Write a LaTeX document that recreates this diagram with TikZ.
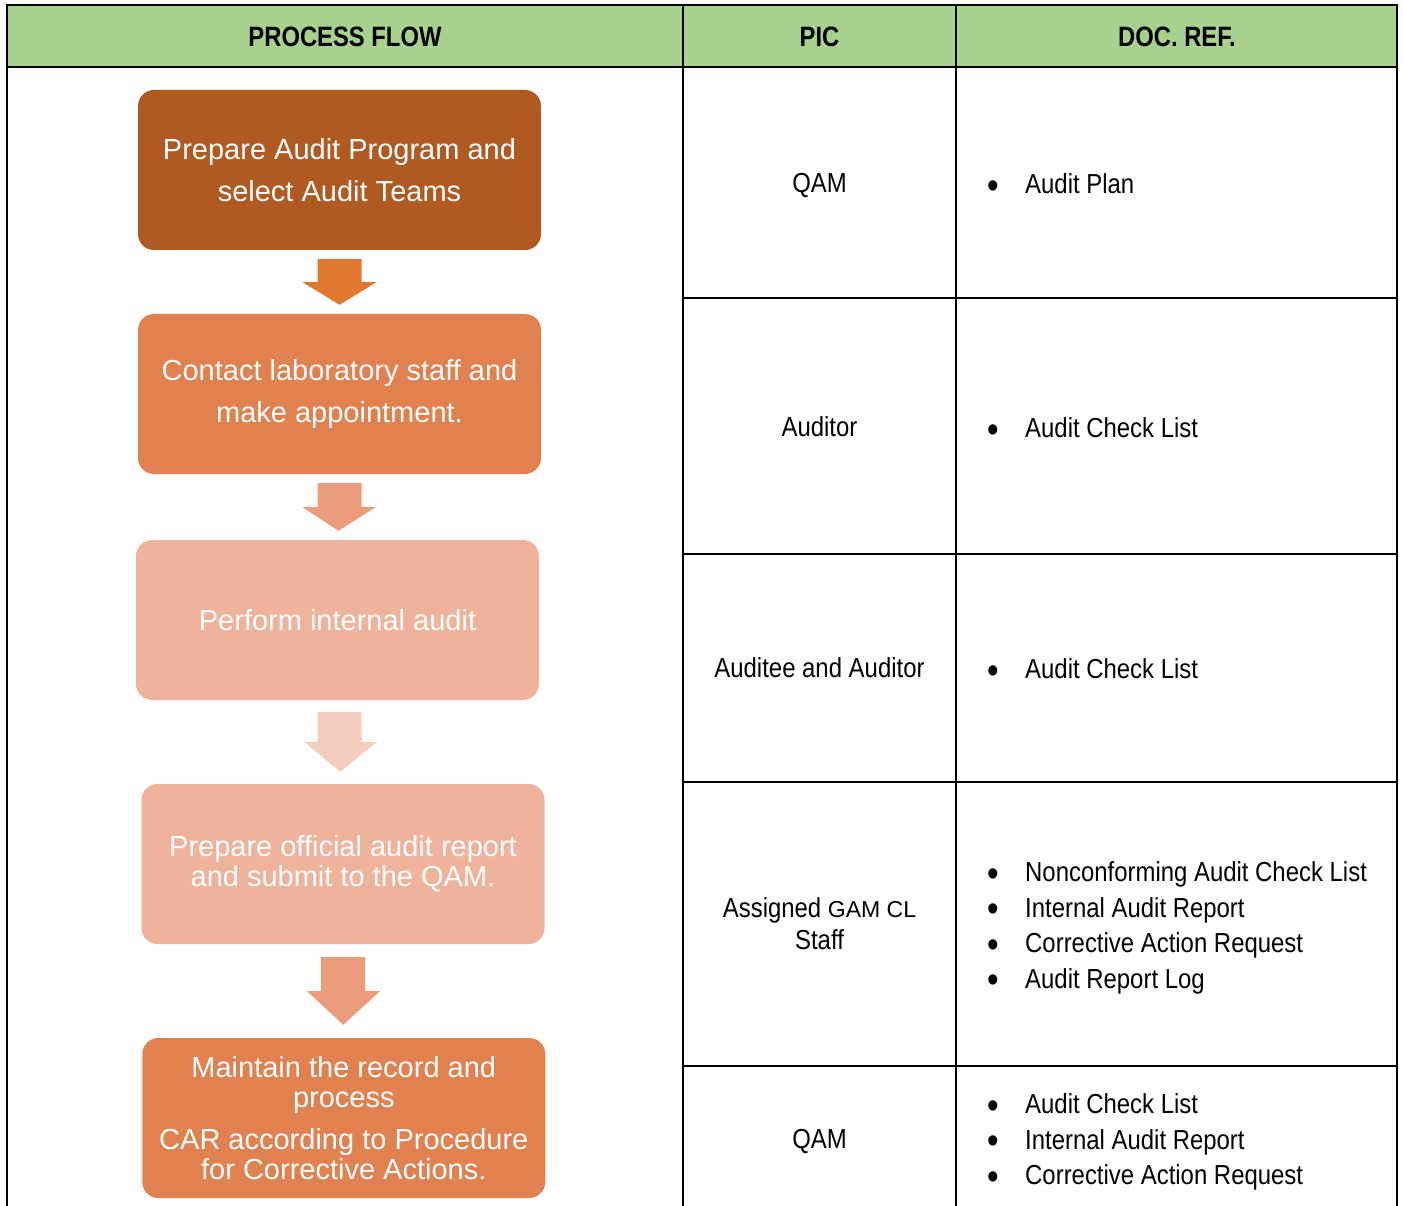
\documentclass[tikz,border=0pt]{standalone}
\usepackage{fontspec}
\setmainfont{Liberation Sans}
\newfontfamily\narrowf{Liberation Sans}[FakeStretch=0.87]
\newfontfamily\hdrf{Liberation Sans}[FakeStretch=0.85]
\usetikzlibrary{calc}
\definecolor{hdrgreen}{HTML}{A9D18E}
\definecolor{cbA}{HTML}{B05A22}
\definecolor{caA}{HTML}{E07830}
\definecolor{cbB}{HTML}{E0814F}
\definecolor{caB}{HTML}{EA9C7B}
\definecolor{cbC}{HTML}{EFB39B}
\definecolor{caC}{HTML}{F5CDBF}
\tikzset{
  tline/.style={line width=2.8pt, black},
  stepbox/.style={rounded corners=16pt, inner sep=0pt, text=white, align=center,
     minimum width=403pt, minimum height=160pt},
  hdrtext/.style={font=\hdrf\bfseries\fontsize{28}{30}\selectfont, inner sep=0pt},
  pictext/.style={font=\narrowf\fontsize{27.5}{32}\selectfont, inner sep=0pt, align=center},
  doctext/.style={font=\narrowf\fontsize{27.5}{35.5}\selectfont, inner sep=0pt, align=left, anchor=west},
}
\newcommand{\bl}[1]{\makebox[38pt][l]{\raisebox{-4.5pt}{\fontsize{38}{0}\selectfont •}}#1}
\begin{document}
\begin{tikzpicture}[x=1pt,y=-1pt]
\useasboundingbox (0,0) rectangle (1403,1206);
% header
\fill[hdrgreen] (7,5) rectangle (1397,67);
\draw[tline] (7,1206) -- (7,5) -- (1397,5) -- (1397,1206);
\draw[tline] (7,67) -- (1397,67);
\draw[tline] (683,5) -- (683,1206);
\draw[tline] (956,5) -- (956,1206);
\foreach \yy in {298,554,782,1066} \draw[tline] (683,\yy) -- (1397,\yy);
\node[hdrtext] (hpf) at (345,37) {PROCESS FLOW};
\node[hdrtext] (hpic) at (819.5,37) {PIC};
\node[hdrtext] (hdoc) at (1177,37) {DOC. REF.};

% process boxes
\node[stepbox, fill=cbA, font=\fontsize{29}{42}\selectfont] (b1) at (339.5,170) {Prepare Audit Program and\\select Audit Teams};
\node[stepbox, fill=cbB, font=\fontsize{29}{42}\selectfont] (b2) at (339.5,394) {Contact laboratory staff and\\make appointment.};
\node[stepbox, fill=cbC, font=\fontsize{29}{34}\selectfont] (b3) at (337.5,620) {Perform internal audit};
\node[stepbox, fill=cbC, font=\fontsize{29}{30}\selectfont] (b4) at (343,864) {Prepare official audit report\\and submit to the QAM.};
\node[stepbox, fill=cbB, font=\fontsize{29}{30}\selectfont] (b5) at (343.8,1118) {Maintain the record and\\process\\[12pt]CAR according to Procedure\\for Corrective Actions.};

% block arrows (connectors)
\fill[caA] ($(b1.south)+(-22,9)$) -- ++(44,0) -- ++(0,23) -- ++(15,0) -- ($(b2.north)+(0,-9)$) -- ($(b1.south)+(-37,32)$) -- ++(15,0) -- cycle;
\fill[caB] ($(b2.south)+(-22,9)$) -- ++(44,0) -- ++(0,24) -- ++(14,0) -- ($(b3.north)+(1,-9)$) -- ($(b2.south)+(-37,33)$) -- ++(15,0) -- cycle;
\fill[caC] ($(b3.south)+(-20,12)$) -- ++(44,0) -- ++(0,30) -- ++(15,0) -- ($(b4.north)+(-2.7,-12)$) -- ($(b3.south)+(-33,42)$) -- ++(13,0) -- cycle;
\fill[caB] ($(b4.south)+(-22,13)$) -- ++(44,0) -- ++(0,34) -- ++(15,0) -- ($(b5.north)+(-0.5,-13)$) -- ($(b4.south)+(-36,47)$) -- ++(14,0) -- cycle;

% PIC column
\node[pictext] (p1) at (819.5,185) {QAM};
\node[pictext] (p2) at (819.5,427) {Auditor};
\node[pictext] (p3) at (819.5,668) {Auditee and Auditor};
\node[pictext] (p4) at (819.5,924) {Assigned {\fontspec{Liberation Sans}\fontsize{23}{32}\selectfont GAM CL}\\Staff};
\node[pictext] (p5) at (819.5,1141) {QAM};

% DOC. REF. column
\node[doctext] (d1) at (987,186) {\bl{Audit Plan}};
\node[doctext] (d2) at (987,430) {\bl{Audit Check List}};
\node[doctext] (d3) at (987,671) {\bl{Audit Check List}};
\node[doctext] (d4) at (987,928) {\bl{Nonconforming Audit Check List}\\\bl{Internal Audit Report}\\\bl{Corrective Action Request}\\\bl{Audit Report Log}};
\node[doctext] (d5) at (987,1142) {\bl{Audit Check List}\\\bl{Internal Audit Report}\\\bl{Corrective Action Request}};
\end{tikzpicture}
\end{document}
